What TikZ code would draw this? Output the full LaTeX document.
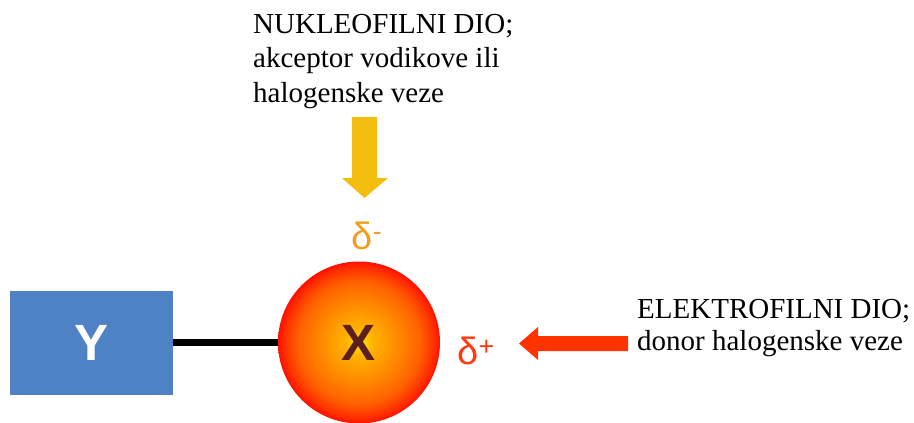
\documentclass[tikz,border=0pt]{standalone}
\usepackage{fontspec}
\setmainfont{Liberation Serif}
\newfontfamily\arialfont{Liberation Sans}
\definecolor{yblue}{HTML}{4F82C4}
\definecolor{xbrown}{HTML}{5C1F1F}
\definecolor{dminus}{HTML}{F0A020}
\definecolor{dplus}{HTML}{FF3A10}
\definecolor{arrowyellow}{HTML}{F3BE0E}
\definecolor{arrowred}{HTML}{FF3300}
\definecolor{ballc}{HTML}{FFEA00}
\definecolor{ballm}{HTML}{FFB400}
\definecolor{ballo}{HTML}{FF8400}
\definecolor{ballp}{HTML}{FF6000}
\definecolor{ballr}{HTML}{FF3000}
\definecolor{balle}{HTML}{FF1000}
\pgfdeclareradialshading{xball}{\pgfpoint{0bp}{0bp}}{%
  color(0bp)=(ballc);
  color(4bp)=(ballm);
  color(13bp)=(ballo);
  color(19bp)=(ballp);
  color(23bp)=(ballr);
  color(25bp)=(balle);
  color(50bp)=(balle)}
\tikzset{
  lbl/.style={font=\fontsize{29}{34}\selectfont, anchor=base west, inner sep=0pt},
  letter/.style={font=\arialfont\bfseries\fontsize{51}{51}\selectfont, inner sep=0pt},
  delta/.style={font=\arialfont\fontsize{38}{38}\selectfont, inner sep=0pt},
}
\begin{document}
\begin{tikzpicture}[x=1pt,y=-1pt]
\useasboundingbox (0,0) rectangle (914,423);
% Y box
\node[fill=yblue, minimum width=163pt, minimum height=104pt, inner sep=0pt] (Y) at (91.5,342.5) {};
\node[letter, text=white] (ylab) at (Y.center) {Y};
% X ball
\node[circle, minimum size=162pt, inner sep=0pt, shading=xball] (X) at (359,342.5) {};
\node[letter, text=xbrown] (xlab) at (X.center) {X};
% bond
\draw[line width=7pt] (Y.east) -- (X.west);
% partial charges
\node[delta, text=dminus] (dm) at (367,236) {δ\textsuperscript{-}};
\node[delta, text=dplus] (dp) at (476,351) {δ\textsuperscript{+}};
% yellow arrow
\fill[arrowyellow] (352,117) -- (377,117) -- (377,178) -- (388,178) -- (364.5,198) -- (342,178) -- (352,178) -- cycle;
% red arrow
\fill[arrowred] (628,336) -- (538,336) -- (538,327) -- (519,343.5) -- (538,360) -- (538,351) -- (628,351) -- cycle;
% texts
\node[lbl] (n1) at (253,33) {NUKLEOFILNI DIO;};
\node[lbl] (n2) at (253,67) {akceptor vodikove ili};
\node[lbl] (n3) at (253,102) {halogenske veze};
\node[lbl] (e1) at (637,318) {ELEKTROFILNI DIO;};
\node[lbl] (e2) at (637,350) {donor halogenske veze};
\end{tikzpicture}
\end{document}
